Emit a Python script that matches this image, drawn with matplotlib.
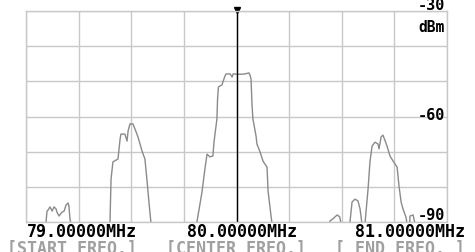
import numpy as np
import matplotlib.pyplot as plt

freq = [79.000, 79.090, 79.095, 79.100, 79.105, 79.114, 79.124, 79.133, 79.143, 79.147,
        79.157, 79.171, 79.181, 79.190, 79.200, 79.204, 79.209, 79.214, 79.220,
        79.395, 79.399, 79.404, 79.413, 79.437, 79.447, 79.451, 79.470, 79.480, 79.485,
        79.494, 79.508, 79.518, 79.532, 79.551, 79.565, 79.575, 79.584, 79.594, 79.600,
        79.805, 79.812, 79.836, 79.850, 79.860, 79.874, 79.888, 79.893, 79.907, 79.910,
        79.914, 79.922, 79.931, 79.945, 79.950, 79.970, 79.979, 79.984, 80.017, 80.040,
        80.059, 80.064, 80.069, 80.074, 80.078, 80.093, 80.097, 80.112, 80.126, 80.145,
        80.150, 80.164, 80.169, 80.175,
        80.440, 80.444, 80.460, 80.478, 80.490, 80.497, 80.500,
        80.535, 80.539, 80.549, 80.563, 80.577, 80.587, 80.596, 80.600,
        80.606, 80.611, 80.625, 80.634, 80.644, 80.658, 80.672, 80.677, 80.687, 80.696,
        80.715, 80.729, 80.744, 80.763, 80.772, 80.782, 80.791, 80.805, 80.810, 80.815,
        80.820, 80.824, 80.839, 80.848, 80.855, 81.000]
level = [-95, -95, -90, -86.9, -86.6, -85.7, -86.9, -85.7, -86.3, -87.2,
         -88.3, -87.2, -86.9, -85.2, -84.6, -85.5, -89.2, -90.5, -95,
         -95, -90, -77.8, -72.9, -72.1, -66.4, -65.0, -65.0, -67.0, -64.1,
         -62.1, -62.1, -63.6, -65.8, -69.8, -72.1, -78.3, -84.3, -90.5, -95,
         -95, -90, -81.5, -74.9, -70.7, -71.5, -71.2, -67.3, -60.7, -55.0,
         -51.6, -51.3, -51.0, -48.5, -47.9, -47.9, -48.8, -47.9, -48.0, -47.9,
         -47.6, -48.2, -49.3, -57.0, -60.7, -65.6, -67.8, -70.1, -72.7, -74.4,
         -81.2, -88.3, -90.5, -95,
         -95, -89.7, -89.0, -88.0, -88.5, -90.5, -95,
         -95, -90, -84.3, -83.5, -84.0, -86.3, -90.5, -95,
         -95, -90, -80.6, -72.9, -68.4, -67.3, -67.8, -69.2, -65.8, -65.3,
         -68.4, -71.2, -72.7, -74.4, -79.8, -84.3, -86.3, -88.6, -90.5, -95,
         -95, -88.3, -88.0, -90.5, -95, -95]

start_mhz, center_mhz, end_mhz = 79.0, 80.0, 81.0
ref_level, bottom_level = -30, -90
freq_labels = ['79.00000MHz', '80.00000MHz', '81.00000MHz']
key_labels = ['[START FREQ.]', '[CENTER FREQ.]', '[ END FREQ. ]']

grid_c = '#c8c8c8'
mono = 'DejaVu Sans Mono'

fig = plt.figure(figsize=(4.75, 2.53), dpi=100)
ax = fig.add_axes([26/475, 30/253, 421/475, 211/253])

ax.plot(freq, level, color='#8a8a8a', lw=1.0)
ax.axvline(center_mhz, color='black', lw=1.0)
ax.plot([center_mhz], [ref_level + 0.4], marker='v', color='black', ms=4, clip_on=False)

ax.set_xlim(start_mhz, end_mhz)
ax.set_ylim(bottom_level, ref_level)
ax.set_xticks(np.arange(start_mhz, end_mhz + 0.01, 0.25))
ax.set_yticks(np.arange(bottom_level, ref_level + 1, 10))
ax.grid(True, color=grid_c, lw=1.0)
ax.tick_params(length=0, labelbottom=False, labelleft=False)
for s in ax.spines.values():
    s.set_color(grid_c)
    s.set_linewidth(1.0)

# reference / scale labels on the right
ax.text(80.99, -28.2, '-30', ha='right', va='center', fontsize=11, family=mono, weight='bold')
ax.text(80.99, -34.3, 'dBm', ha='right', va='center', fontsize=10.5, family=mono, weight='bold')
ax.text(80.99, -59.5, '-60', ha='right', va='center', fontsize=11, family=mono, weight='bold')
ax.text(80.99, -88.0, '-90', ha='right', va='center', fontsize=11, family=mono, weight='bold')

# frequency annotations below
fig.text(27/475, 1 - 232/253, freq_labels[0], ha='left', va='center', fontsize=12, family=mono, weight='bold')
fig.text(241.5/475, 1 - 232/253, freq_labels[1], ha='center', va='center', fontsize=12, family=mono, weight='bold')
fig.text(465/475, 1 - 232/253, freq_labels[2], ha='right', va='center', fontsize=12, family=mono, weight='bold')
fig.text(7/475, 1 - 249/253, key_labels[0], ha='left', va='center', fontsize=12, family=mono, weight='bold', color='#a0a0a0')
fig.text(236/475, 1 - 249/253, key_labels[1], ha='center', va='center', fontsize=12, family=mono, weight='bold', color='#a0a0a0')
fig.text(465/475, 1 - 249/253, key_labels[2], ha='right', va='center', fontsize=12, family=mono, weight='bold', color='#a0a0a0')

fig.savefig('out.png', dpi=100)
